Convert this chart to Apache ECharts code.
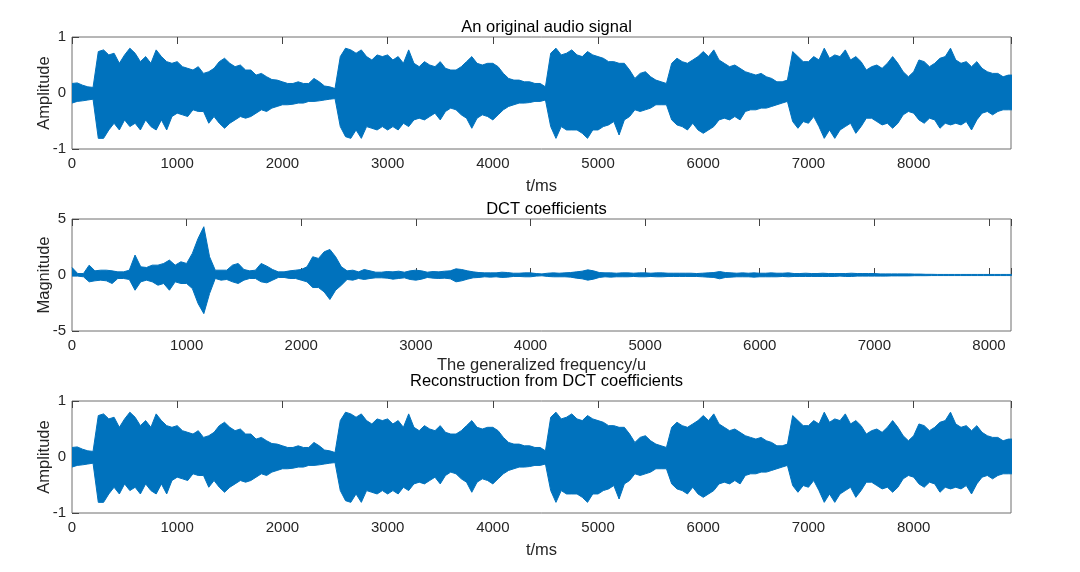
<!DOCTYPE html>
<html>
<head>
<meta charset="utf-8">
<title>Audio signal and DCT</title>
<script src="https://cdn.jsdelivr.net/npm/echarts@6.0.0/dist/echarts.min.js"></script>
<style>
  html, body { margin: 0; padding: 0; background: #fff; }
  #chart { width: 1080px; height: 572px; }
</style>
</head>
<body>
<div id="chart"></div>
<script>
// envelope of the audio signal (max / min per 50 ms bin)
var audioStep = 50;
var audioHi = [
	0.17, 0.18, 0.14, 0.11, 0.10, 0.74, 0.77, 0.68, 0.71, 0.53,
	0.68, 0.80, 0.71, 0.56, 0.65, 0.53, 0.77, 0.65, 0.56, 0.53,
	0.56, 0.47, 0.44, 0.41, 0.47, 0.35, 0.38, 0.44, 0.56, 0.62,
	0.53, 0.47, 0.50, 0.41, 0.41, 0.32, 0.35, 0.29, 0.24, 0.23,
	0.20, 0.17, 0.17, 0.20, 0.17, 0.17, 0.26, 0.20, 0.125, 0.11,
	0.08, 0.65, 0.80, 0.77, 0.71, 0.77, 0.65, 0.59, 0.68, 0.65,
	0.68, 0.59, 0.65, 0.53, 0.77, 0.53, 0.47, 0.56, 0.50, 0.47,
	0.56, 0.44, 0.41, 0.41, 0.47, 0.56, 0.65, 0.53, 0.50, 0.53,
	0.53, 0.47, 0.35, 0.26, 0.23, 0.23, 0.20, 0.20, 0.17, 0.17,
	0.11, 0.71, 0.80, 0.68, 0.71, 0.77, 0.68, 0.65, 0.74, 0.68,
	0.65, 0.62, 0.56, 0.56, 0.53, 0.53, 0.41, 0.26, 0.35, 0.38,
	0.29, 0.23, 0.20, 0.17, 0.53, 0.62, 0.56, 0.53, 0.59, 0.65,
	0.74, 0.65, 0.77, 0.59, 0.53, 0.47, 0.50, 0.44, 0.38, 0.35,
	0.32, 0.35, 0.29, 0.26, 0.20, 0.20, 0.23, 0.74, 0.65, 0.56,
	0.56, 0.65, 0.59, 0.80, 0.62, 0.68, 0.65, 0.77, 0.59, 0.65,
	0.56, 0.41, 0.47, 0.50, 0.44, 0.53, 0.65, 0.53, 0.38, 0.29,
	0.38, 0.59, 0.56, 0.47, 0.53, 0.62, 0.65, 0.80, 0.59, 0.53,
	0.56, 0.47, 0.56, 0.44, 0.38, 0.35, 0.35, 0.29, 0.32, 0.32
];
var audioLo = [
	-0.18, -0.15, -0.14, -0.125, -0.11, -0.81, -0.81, -0.66, -0.54, -0.66,
	-0.48, -0.60, -0.54, -0.66, -0.48, -0.60, -0.66, -0.48, -0.66, -0.42,
	-0.36, -0.39, -0.42, -0.30, -0.33, -0.33, -0.54, -0.42, -0.54, -0.63,
	-0.54, -0.48, -0.42, -0.45, -0.42, -0.36, -0.30, -0.33, -0.27, -0.24,
	-0.21, -0.21, -0.20, -0.18, -0.18, -0.15, -0.15, -0.14, -0.125, -0.11,
	-0.10, -0.60, -0.78, -0.81, -0.66, -0.81, -0.60, -0.63, -0.66, -0.60,
	-0.66, -0.60, -0.66, -0.54, -0.60, -0.48, -0.45, -0.48, -0.42, -0.36,
	-0.48, -0.33, -0.27, -0.30, -0.39, -0.45, -0.63, -0.45, -0.39, -0.42,
	-0.48, -0.39, -0.30, -0.24, -0.21, -0.18, -0.18, -0.17, -0.15, -0.15,
	-0.125, -0.60, -0.81, -0.60, -0.66, -0.66, -0.66, -0.72, -0.81, -0.66,
	-0.66, -0.60, -0.57, -0.51, -0.75, -0.48, -0.42, -0.30, -0.33, -0.30,
	-0.27, -0.21, -0.21, -0.21, -0.48, -0.57, -0.60, -0.66, -0.54, -0.66,
	-0.72, -0.66, -0.60, -0.48, -0.45, -0.48, -0.42, -0.48, -0.33, -0.30,
	-0.30, -0.27, -0.27, -0.24, -0.21, -0.18, -0.15, -0.51, -0.63, -0.51,
	-0.54, -0.42, -0.60, -0.81, -0.66, -0.81, -0.66, -0.60, -0.54, -0.72,
	-0.60, -0.45, -0.45, -0.51, -0.57, -0.54, -0.63, -0.54, -0.39, -0.33,
	-0.36, -0.48, -0.54, -0.45, -0.48, -0.63, -0.54, -0.57, -0.54, -0.57,
	-0.51, -0.66, -0.48, -0.36, -0.33, -0.39, -0.33, -0.30, -0.30, -0.30
];

// envelope of the DCT coefficients (max / min per 50 u)
var dctStep = 50;
var dctHi = [
	0.67, 0.13, 0.13, 0.88, 0.37, 0.43, 0.43, 0.37, 0.28, 0.28,
	0.43, 1.78, 0.73, 0.67, 0.88, 0.88, 1.03, 1.33, 0.88, 1.18,
	1.03, 1.93, 3.27, 4.31, 1.63, 0.43, 0.43, 0.43, 0.88, 1.03,
	0.49, 0.37, 0.43, 1.03, 0.79, 0.49, 0.28, 0.28, 0.37, 0.43,
	0.49, 0.73, 1.63, 1.48, 2.07, 2.28, 1.63, 0.73, 0.37, 0.43,
	0.28, 0.49, 0.37, 0.25, 0.25, 0.31, 0.28, 0.34, 0.25, 0.37,
	0.43, 0.37, 0.25, 0.31, 0.28, 0.34, 0.37, 0.55, 0.49, 0.37,
	0.28, 0.22, 0.19, 0.19, 0.19, 0.25, 0.22, 0.16, 0.16, 0.19,
	0.19, 0.13, 0.10, 0.16, 0.19, 0.16, 0.19, 0.22, 0.28, 0.34,
	0.46, 0.37, 0.22, 0.19, 0.19, 0.16, 0.19, 0.19, 0.16, 0.19,
	0.19, 0.16, 0.19, 0.19, 0.16, 0.16, 0.16, 0.16, 0.16, 0.13,
	0.16, 0.19, 0.22, 0.31, 0.22, 0.19, 0.16, 0.19, 0.16, 0.19,
	0.16, 0.16, 0.19, 0.16, 0.16, 0.19, 0.13, 0.13, 0.16, 0.13,
	0.13, 0.16, 0.13, 0.13, 0.13, 0.13, 0.16, 0.13, 0.13, 0.13,
	0.13, 0.10, 0.10, 0.10, 0.10, 0.10, 0.10, 0.08, 0.08, 0.06,
	0.06, 0.05, 0.05, 0.05, 0.05, 0.05, 0.05, 0.05, 0.05, 0.05,
	0.05, 0.05, 0.05, 0.05, 0.05
];
var dctLo = [
	-0.10, -0.10, -0.16, -0.61, -0.52, -0.46, -0.52, -0.76, -0.31, -0.31,
	-0.40, -1.36, -0.61, -0.46, -0.61, -0.91, -0.76, -1.36, -0.61, -0.76,
	-0.76, -1.21, -2.55, -3.45, -1.66, -0.31, -0.46, -0.40, -0.61, -0.76,
	-0.46, -0.31, -0.31, -0.61, -0.70, -0.46, -0.22, -0.22, -0.31, -0.31,
	-0.46, -0.61, -1.12, -1.12, -1.51, -2.19, -1.36, -0.91, -0.40, -0.46,
	-0.31, -0.40, -0.31, -0.25, -0.25, -0.28, -0.37, -0.31, -0.25, -0.40,
	-0.46, -0.37, -0.22, -0.28, -0.31, -0.28, -0.34, -0.61, -0.52, -0.37,
	-0.25, -0.22, -0.16, -0.19, -0.16, -0.22, -0.19, -0.13, -0.13, -0.16,
	-0.16, -0.10, -0.07, -0.13, -0.16, -0.16, -0.16, -0.19, -0.28, -0.34,
	-0.46, -0.37, -0.22, -0.16, -0.19, -0.16, -0.16, -0.16, -0.13, -0.16,
	-0.16, -0.13, -0.16, -0.16, -0.13, -0.13, -0.13, -0.13, -0.13, -0.13,
	-0.16, -0.19, -0.22, -0.34, -0.22, -0.19, -0.16, -0.16, -0.16, -0.19,
	-0.16, -0.16, -0.16, -0.16, -0.13, -0.16, -0.13, -0.13, -0.13, -0.13,
	-0.13, -0.13, -0.13, -0.13, -0.10, -0.13, -0.13, -0.10, -0.10, -0.10,
	-0.10, -0.10, -0.10, -0.08, -0.08, -0.08, -0.08, -0.06, -0.06, -0.06,
	-0.05, -0.05, -0.05, -0.05, -0.05, -0.05, -0.05, -0.05, -0.05, -0.05,
	-0.05, -0.05, -0.05, -0.05, -0.05
];

var titles = ['An original audio signal', 'DCT coefficients', 'Reconstruction from DCT coefficients'];
var xNames = ['t/ms', 'The generalized frequency/u', 't/ms'];
var yNames = ['Amplitude', 'Magnitude', 'Amplitude'];
var xMax = [8925, 8192, 8925];
var yTicks = [[-1, 0, 1], [-5, 0, 5], [-1, 0, 1]];
var xTickStep = 1000;

var FONT = '"Liberation Sans", Arial, Helvetica, sans-serif';
var BLUE = '#0072BD';
var TXT = '#262626';

function toPoints(values, step) {
	return values.map(function(v, i) {
		return [i * step, v];
	});
}

var grids = [
	{ left: 72, top: 37, width: 939, height: 112 },
	{ left: 72, top: 219, width: 939, height: 112 },
	{ left: 72, top: 401, width: 939, height: 112 }
];
var titleTops = [14, 196, 368];
var xNameGaps = [29, 26, 29];

var option = {
	animation: false,
	textStyle: { fontFamily: FONT },
	title: [],
	grid: [],
	xAxis: [],
	yAxis: [],
	series: []
};

grids.forEach(function(g, k) {
	option.grid.push({
		left: g.left, top: g.top, width: g.width, height: g.height,
		show: true, borderColor: '#6e6e6e', borderWidth: 1, backgroundColor: '#fff'
	});
	option.title.push({
		text: titles[k],
		left: g.left + g.width / 2,
		top: titleTops[k],
		textAlign: 'center',
		textStyle: { fontFamily: FONT, fontSize: 16.5, fontWeight: 'normal', color: '#000' }
	});
	// bottom axis with labels
	option.xAxis.push({
		gridIndex: k, type: 'value', min: 0, max: xMax[k], interval: xTickStep,
		axisLine: { show: false },
		axisTick: { inside: true, length: 7, lineStyle: { color: '#444' } },
		axisLabel: {
			color: TXT, fontSize: 15, margin: 7, fontFamily: FONT,
			formatter: function(v) { return v % xTickStep === 0 ? String(v) : ''; }
		},
		splitLine: { show: false },
		name: xNames[k], nameLocation: 'middle', nameGap: xNameGaps[k], nameMoveOverlap: false,
		nameTextStyle: { color: TXT, fontSize: 16.5, fontFamily: FONT }
	});
	// top axis, ticks only (box on)
	option.xAxis.push({
		gridIndex: k, type: 'value', position: 'top', min: 0, max: xMax[k], interval: xTickStep,
		axisLine: { show: false },
		axisTick: { inside: true, length: 7, lineStyle: { color: '#444' } },
		axisLabel: { show: false },
		splitLine: { show: false }
	});
	var yt = yTicks[k];
	option.yAxis.push({
		gridIndex: k, type: 'value', min: yt[0], max: yt[yt.length - 1], interval: yt[1] - yt[0],
		axisLine: { show: false },
		axisTick: { inside: true, length: 7, lineStyle: { color: '#444' } },
		axisLabel: { color: TXT, fontSize: 15, margin: 6, fontFamily: FONT },
		splitLine: { show: false },
		name: yNames[k], nameLocation: 'middle', nameGap: 19, nameMoveOverlap: false,
		nameTextStyle: { color: TXT, fontSize: 16.5, fontFamily: FONT }
	});
});

function envelopeSeries(k, values, step) {
	return {
		type: 'line',
		xAxisIndex: k * 2,
		yAxisIndex: k,
		data: toPoints(values, step),
		symbol: 'none',
		silent: true,
		clip: true,
		lineStyle: { color: BLUE, width: 1 },
		areaStyle: { color: BLUE, opacity: 1 }
	};
}

option.series.push(envelopeSeries(0, audioHi, audioStep));
option.series.push(envelopeSeries(0, audioLo, audioStep));
option.series.push(envelopeSeries(1, dctHi, dctStep));
option.series.push(envelopeSeries(1, dctLo, dctStep));
// reconstruction equals the original signal
option.series.push(envelopeSeries(2, audioHi, audioStep));
option.series.push(envelopeSeries(2, audioLo, audioStep));

var myChart = echarts.init(document.getElementById('chart'), null, { renderer: 'canvas' });
myChart.setOption(option);
</script>
</body>
</html>
